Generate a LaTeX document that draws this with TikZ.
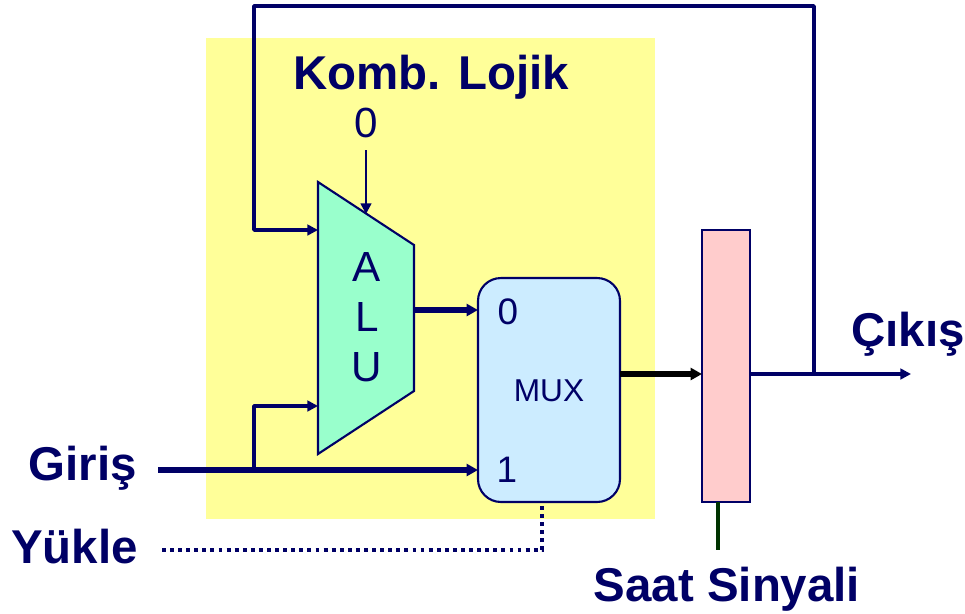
\documentclass[tikz,border=0pt]{standalone}
\usepackage{fontspec}
\setmainfont{Liberation Sans}
\usetikzlibrary{arrows.meta}
\definecolor{navy}{HTML}{000066}
\definecolor{lemon}{HTML}{FFFF99}
\definecolor{mint}{HTML}{99FFCC}
\definecolor{sky}{HTML}{CCECFF}
\definecolor{blush}{HTML}{FFCCCC}
\definecolor{clockgreen}{HTML}{003300}
\begin{document}
\begin{tikzpicture}[x=0.02cm, y=-0.02cm, color=navy, text=navy]
	\tikzstyle{block}  = [draw=navy, line width=1.2pt, inner sep=0pt]
	\tikzstyle{label}  = [font=\fontsize{27}{30}\bfseries\selectfont, inner sep=0pt]
	\tikzstyle{digit}  = [font=\fontsize{21}{24}\selectfont, inner sep=0pt]
	\tikzstyle{wire}   = [draw=navy, line width=2.1pt, -{Triangle[length=6pt, width=6pt]}]
	\tikzstyle{bus}    = [draw=navy, line width=3.3pt, -{Triangle[length=6.5pt, width=6.8pt]}]

	\useasboundingbox (0, 0) rectangle (965, 613);
	\fill[lemon] (206, 38) rectangle (655, 519);

	\foreach \name/\x/\y in {alutl/318/182, alutr/414/245, alubr/414/391, alubl/318/454,
		aluin0/318/230, aluin1/318/406, aluop/366/214, aluout/414/310,
		fbturn/254/6, fbdown/254/230, fbright/814/6, fbtap/814/374, intap/254/470, inup/254/406,
		gostart/158/470, muxin0/478/310, muxin1/478/470, muxout/620/374, muxsel/542/502,
		regin/702/374, regout/750/374, regclk/718/502, clkend/718/550, outend/911/374,
		selstart/162/550, selturn/542/550}
		\coordinate (\name) at (\x, \y);

	\draw[block, fill=mint] (alutl) -- (alutr) -- (alubr) -- (alubl) -- cycle;
	\node[inner sep=0pt, align=center, font=\fontsize{24}{28.5}\selectfont] (alu) at (367, 317) {A\\L\\U};

	\node[block, fill=sky, rounded corners=13pt, minimum width=2.84cm, minimum height=4.48cm] (mux) at (549, 390) {};
	\node[block, fill=blush, minimum width=0.96cm, minimum height=5.44cm] (reg) at (726, 366) {};

	\node[font=\fontsize{18}{20}\selectfont, inner sep=0pt] (muxname) at (549, 391) {MUX};
	\node[digit] (muxzero) at (508, 312) {0};
	\node[digit] (muxone) at (507, 470) {1};
	\node[digit, font=\fontsize{24}{26}\selectfont] (opzero) at (366, 123) {0};

	\node[label] (title) at (431, 77) {Komb. Lojik};
	\node[label, anchor=base east] (giris) at (137, 480) {Giriş};
	\node[label, anchor=base east] (yukle) at (138, 563) {Yükle};
	\node[label, anchor=base west] (cikis) at (851, 346) {Çıkış};
	\node[label, anchor=base] (saat) at (727, 601) {Saat Sinyali};

	% feedback loop
	\draw[wire, line join=round] (fbtap) -- (fbright) -- (fbturn) -- (fbdown) -- (aluin0);
	\draw[draw=navy, line width=1.4pt, -{Triangle[length=6pt, width=6pt]}] (opzero.south |- 0, 150) -- (aluop);
	\draw[wire, line join=round] (intap) -- (inup) -- (aluin1);

	\draw[bus] (gostart) -- (muxin1);
	\draw[bus] (aluout) -- (muxin0);
	\draw[bus, draw=black, fill=black] (muxout) -- (regin);
	\draw[wire, line width=2.6pt] (regout) -- (outend);

	\draw[draw=navy, line width=2.2pt, dash pattern=on 2.2pt off 2.4pt] (selstart) -- (selturn) -- (muxsel);
	\draw[draw=clockgreen, line width=2.2pt] (regclk) -- (clkend);
\end{tikzpicture}
\end{document}
